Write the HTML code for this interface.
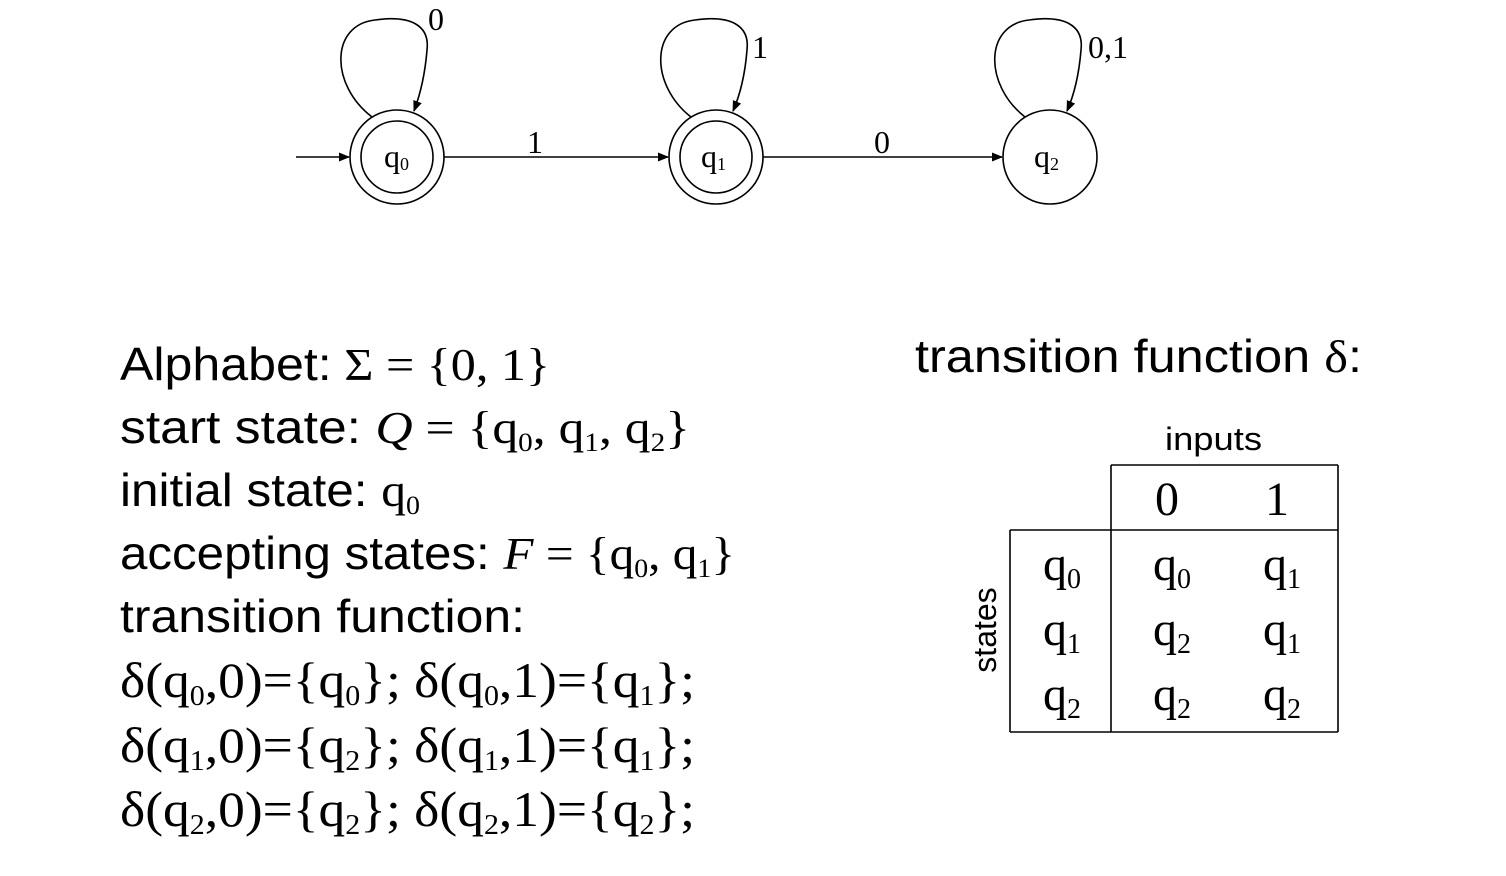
<!DOCTYPE html>
<html><head><meta charset="utf-8"><style>
body{margin:0;background:#fff;width:1506px;height:876px;overflow:hidden}
svg{display:block}
.s{font-family:"Liberation Sans",sans-serif}
.r{font-family:"Liberation Serif",serif}
</style></head><body>
<svg width="1506" height="876" viewBox="0 0 1506 876">
<defs><marker id="ah" viewBox="0 0 10 10" refX="9" refY="5" markerWidth="7" markerHeight="7" orient="auto"><path d="M0,1 L10,5 L0,9 z" fill="#000"/></marker></defs>
<g fill="none" stroke="#000" stroke-width="1.6">
<line x1="296" y1="157" x2="349" y2="157" marker-end="url(#ah)"/>
<circle cx="397" cy="157" r="47"/><circle cx="397" cy="157" r="36"/>
<circle cx="716" cy="157" r="47"/><circle cx="716" cy="157" r="36"/>
<circle cx="1050" cy="157" r="47"/>
<line x1="444" y1="157" x2="668" y2="157" marker-end="url(#ah)"/>
<line x1="763" y1="157" x2="1002" y2="157" marker-end="url(#ah)"/>
<path d="M372,117 C330,85 330,25 375,20 C410,15 430,25 427,50 C425,75 420,95 414,111" marker-end="url(#ah)"/>
<path d="M691,117 C650,85 650,25 695,20 C730,15 750,25 747,50 C745,75 740,95 733,111" marker-end="url(#ah)"/>
<path d="M1025,117 C984,85 984,25 1029,20 C1064,15 1084,25 1081,50 C1079,75 1074,95 1067,111" marker-end="url(#ah)"/>
</g>
<g class="r" font-size="32" fill="#000">
<text x="384" y="167">q<tspan font-size="18" dy="3">0</tspan></text>
<text x="701" y="167">q<tspan font-size="18" dy="3">1</tspan></text>
<text x="1034" y="167">q<tspan font-size="18" dy="3">2</tspan></text>
<text x="527" y="153">1</text><text x="874" y="153">0</text>
<text x="428" y="30">0</text><text x="752" y="58">1</text><text x="1088" y="58">0,1</text>
</g>
<g font-size="46" fill="#000">
<text x="120" y="380" textLength="430" lengthAdjust="spacingAndGlyphs"><tspan class="s">Alphabet:</tspan><tspan class="r"> Σ = {0, 1}</tspan></text>
<text x="120" y="443" textLength="570" lengthAdjust="spacingAndGlyphs"><tspan class="s">start state: </tspan><tspan class="r"><tspan font-style="italic">Q</tspan> = {q<tspan font-size="26" dy="8">0</tspan><tspan dy="-8">, q</tspan><tspan font-size="26" dy="8">1</tspan><tspan dy="-8">, q</tspan><tspan font-size="26" dy="8">2</tspan><tspan dy="-8">}</tspan></tspan></text>
<text x="120" y="506" textLength="300" lengthAdjust="spacingAndGlyphs"><tspan class="s">initial state: </tspan><tspan class="r">q<tspan font-size="26" dy="8">0</tspan></tspan></text>
<text x="120" y="569" textLength="615" lengthAdjust="spacingAndGlyphs"><tspan class="s">accepting states: </tspan><tspan class="r"><tspan font-style="italic">F</tspan> = {q<tspan font-size="26" dy="8">0</tspan><tspan dy="-8">, q</tspan><tspan font-size="26" dy="8">1</tspan><tspan dy="-8">}</tspan></tspan></text>
<text x="120" y="632" class="s" textLength="405" lengthAdjust="spacingAndGlyphs">transition function:</text>
<text x="120" y="697" class="r" font-size="50" textLength="575" lengthAdjust="spacingAndGlyphs">δ(q<tspan font-size="28" dy="8">0</tspan><tspan dy="-8">,0)={q</tspan><tspan font-size="28" dy="8">0</tspan><tspan dy="-8">}; δ(q</tspan><tspan font-size="28" dy="8">0</tspan><tspan dy="-8">,1)={q</tspan><tspan font-size="28" dy="8">1</tspan><tspan dy="-8">};</tspan></text>
<text x="120" y="762" class="r" font-size="50" textLength="575" lengthAdjust="spacingAndGlyphs">δ(q<tspan font-size="28" dy="8">1</tspan><tspan dy="-8">,0)={q</tspan><tspan font-size="28" dy="8">2</tspan><tspan dy="-8">}; δ(q</tspan><tspan font-size="28" dy="8">1</tspan><tspan dy="-8">,1)={q</tspan><tspan font-size="28" dy="8">1</tspan><tspan dy="-8">};</tspan></text>
<text x="120" y="826" class="r" font-size="50" textLength="575" lengthAdjust="spacingAndGlyphs">δ(q<tspan font-size="28" dy="8">2</tspan><tspan dy="-8">,0)={q</tspan><tspan font-size="28" dy="8">2</tspan><tspan dy="-8">}; δ(q</tspan><tspan font-size="28" dy="8">2</tspan><tspan dy="-8">,1)={q</tspan><tspan font-size="28" dy="8">2</tspan><tspan dy="-8">};</tspan></text>
</g>
<text x="915" y="372" font-size="46" class="s" textLength="447" lengthAdjust="spacingAndGlyphs">transition function <tspan class="r">δ</tspan>:</text>
<text x="1165" y="450" font-size="32" class="s" textLength="97" lengthAdjust="spacingAndGlyphs">inputs</text>
<text transform="translate(996,630) rotate(-90)" text-anchor="middle" font-size="32" class="s">states</text>
<g stroke="#000" stroke-width="1.6" fill="none">
<line x1="1111" y1="465" x2="1338" y2="465"/><line x1="1111" y1="465" x2="1111" y2="732"/><line x1="1338" y1="465" x2="1338" y2="732"/>
<line x1="1010" y1="530" x2="1338" y2="530"/><line x1="1010" y1="530" x2="1010" y2="732"/><line x1="1010" y1="732" x2="1338" y2="732"/>
</g>
<g class="r" font-size="48" fill="#000" text-anchor="middle">
<text x="1167" y="515">0</text><text x="1277" y="515">1</text>
<text x="1062" y="580">q<tspan font-size="28" dy="8">0</tspan></text><text x="1172" y="580">q<tspan font-size="28" dy="8">0</tspan></text><text x="1282" y="580">q<tspan font-size="28" dy="8">1</tspan></text>
<text x="1062" y="645">q<tspan font-size="28" dy="8">1</tspan></text><text x="1172" y="645">q<tspan font-size="28" dy="8">2</tspan></text><text x="1282" y="645">q<tspan font-size="28" dy="8">1</tspan></text>
<text x="1062" y="710">q<tspan font-size="28" dy="8">2</tspan></text><text x="1172" y="710">q<tspan font-size="28" dy="8">2</tspan></text><text x="1282" y="710">q<tspan font-size="28" dy="8">2</tspan></text>
</g>
</svg>
</body></html>
